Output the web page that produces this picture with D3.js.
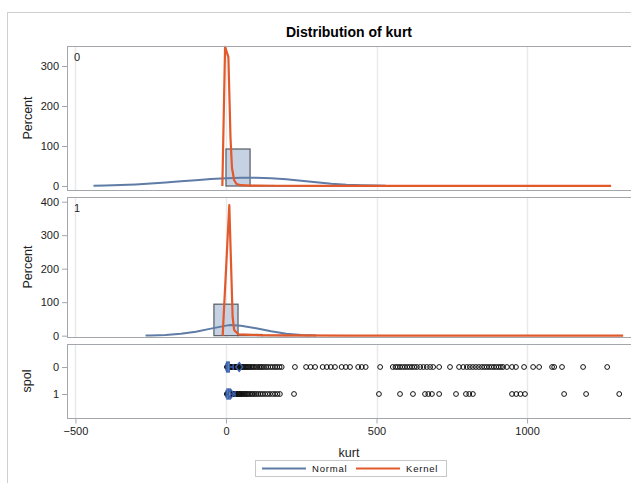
<!DOCTYPE html>
<html><head><meta charset="utf-8">
<script src="https://cdn.jsdelivr.net/npm/d3@7"></script>
<style>
html,body{margin:0;padding:0;background:#fff;}
svg{display:block;font-family:"Liberation Sans",Arial,sans-serif;}
</style></head>
<body>
<svg id="c" width="631" height="483"></svg>
<script>
// ---------- data ----------
const title = "Distribution of kurt";
const groups = ["0", "1"];
const xTicks = [-500, 0, 500, 1000];
const yTicks0 = [0, 100, 200, 300];
const yTicks1 = [0, 100, 200, 300, 400];

// histogram bins: [start, end, percent]
const hist0Start = [0, 80, 160, 240];
const hist0End   = [80, 160, 240, 320];
const hist0Pct   = [92.5, 1.2, 0.6, 0.4];
const hist1Start = [-40, 40, 120, 200];
const hist1End   = [40, 120, 200, 280];
const hist1Pct   = [94, 3.5, 0.8, 0.3];

// normal curves (kurt, percent)
const normal0X = [-440, -400, -350, -300, -250, -200, -150, -100, -50, 0, 50, 100, 150, 200, 250, 300, 350, 400, 450, 500, 530];
const normal0Y = [0.6, 1.3, 2.4, 3.9, 6.0, 8.6, 11.6, 14.6, 17.4, 19.6, 20.8, 20.7, 19.3, 16.8, 13.2, 9.5, 5.8, 3.4, 2.0, 1.2, 0.8];
const normal1X = [-267, -250, -200, -150, -100, -50, 0, 15, 50, 100, 150, 200, 250, 300];
const normal1Y = [0.5, 0.8, 2.2, 5.5, 12, 21, 30, 32, 29.5, 22, 13, 6.0, 2.2, 0.7];

// kernel curves (kurt, percent)
const kernel0X = [-12, -3, 8, 15, 20, 27, 35, 50, 80, 150, 300, 500, 700, 900, 1100, 1279];
const kernel0Y = [0, 348, 322, 120, 45, 15, 5, 2, 1, 0.6, 0.5, 0.4, 0.5, 0.4, 0.4, 0.3];
const kernel1X = [-11, 11, 22, 27, 41, 80, 113, 200, 400, 600, 800, 1000, 1200, 1319];
const kernel1Y = [0, 390, 57, 17, 4, 2.5, 1.5, 0.8, 0.4, 0.4, 0.4, 0.3, 0.3, 0.3];

// box plot summaries
const boxQ1 = [2, 3];
const boxMed = [6, 8];
const boxQ3 = [11, 14];
const boxLo = [0.5, 0.5];
const boxHi = [24, 30];
const boxMean = [44, 16];

// outliers
const out0 = [3,5,6,8,9,11,12,14,15,17,19,21,23,25,27,29,31,34,36,39,42,45,48,52,55,58,62,66,70,74,78,83,88,93,98,104,110,115,120,126,133,140,148,155,163,170,178,185,229,266,281,296,321,335,348,362,384,398,412,439,451,464,512,554,563,570,578,586,594,602,610,618,626,634,645,656,667,678,688,708,744,774,788,800,810,820,830,840,850,858,866,874,882,890,898,906,913,920,933,950,963,990,1020,1040,1083,1090,1116,1186,1266];
const out1 = [3,4,5,6,7,8,9,10,11,12,13,14,15,16,18,20,22,24,26,28,30,32,35,38,41,44,47,50,54,58,62,66,70,75,80,85,90,96,102,108,115,122,130,138,146,155,163,171,179,226,508,578,621,661,672,684,708,764,797,808,820,950,964,978,993,1123,1196,1306];

const legendLabels = ["Normal", "Kernel"];

// ---------- drawing ----------
const C_NORMAL = "#5e7ca6", C_KERNEL = "#e2592b", C_BAR = "#c6d2e3", C_BAR_S = "#555a60";
const C_FRAME = "#a3a7ab", C_GRID = "#e9e9e9";
const TICK_FS = 11;
const svg = d3.select("#c");

// outer frame
svg.append("rect").attr("x", 7.5).attr("y", 12.5).attr("width", 700).attr("height", 600)
  .attr("fill", "none").attr("stroke", "#cfcfcf");

svg.append("text").attr("x", 349).attr("y", 37).attr("text-anchor", "middle")
  .attr("font-size", 14).attr("font-weight", "bold").attr("fill", "#000").text(title);

const L = 67, R = 640;
const x = d3.scaleLinear().domain([-528, 1375]).range([L, R]);

const panels = [
  {top: 46, bot: 190, y: d3.scaleLinear().domain([-10, 350]).range([190, 46]), ticks: yTicks0,
   hs: hist0Start, he: hist0End, hp: hist0Pct, nx: normal0X, ny: normal0Y, kx: kernel0X, ky: kernel0Y, lab: groups[0]},
  {top: 197, bot: 337, y: d3.scaleLinear().domain([-4, 414]).range([337, 197]), ticks: yTicks1,
   hs: hist1Start, he: hist1End, hp: hist1Pct, nx: normal1X, ny: normal1Y, kx: kernel1X, ky: kernel1Y, lab: groups[1]}
];

function grid(top, bot) {
  const g = svg.append("g");
  g.selectAll("line").data(xTicks).join("line")
    .attr("x1", d => Math.round(x(d)) + 0.5).attr("x2", d => Math.round(x(d)) + 0.5)
    .attr("y1", top).attr("y2", bot).attr("stroke", C_GRID).attr("stroke-width", 1.5);
}

function styleAxis(ax) {
  ax.select(".domain").remove();
  ax.selectAll("line").attr("stroke", C_FRAME);
  ax.selectAll("text").attr("font-size", TICK_FS).attr("fill", "#222").attr("font-family", "Liberation Sans, Arial");
}

panels.forEach(p => {
  grid(p.top, p.bot);
  const idx = d3.range(p.hs.length);
  svg.append("g").selectAll("rect").data(idx).join("rect")
    .attr("x", i => x(p.hs[i])).attr("width", i => x(p.he[i]) - x(p.hs[i]))
    .attr("y", i => p.y(p.hp[i])).attr("height", i => p.y(0) - p.y(p.hp[i]))
    .attr("fill", C_BAR).attr("stroke", C_BAR_S).attr("stroke-width", 1.2);
  const line = d3.line().x(d => x(d[0])).y(d => p.y(d[1]));
  svg.append("path").datum(d3.zip(p.nx, p.ny)).attr("d", line)
    .attr("fill", "none").attr("stroke", C_NORMAL).attr("stroke-width", 2);
  svg.append("path").datum(d3.zip(p.kx, p.ky)).attr("d", line)
    .attr("fill", "none").attr("stroke", C_KERNEL).attr("stroke-width", 2.2).attr("stroke-linejoin", "round");
  svg.append("rect").attr("x", L + 0.5).attr("y", p.top + 0.5).attr("width", 700).attr("height", p.bot - p.top)
    .attr("fill", "none").attr("stroke", C_FRAME);
  const ax = svg.append("g").attr("transform", `translate(${L},0)`)
    .call(d3.axisLeft(p.y).tickValues(p.ticks).tickSize(5).tickPadding(3));
  styleAxis(ax);
  svg.append("text").attr("x", 74).attr("y", p.top + 15).attr("font-size", 11).attr("fill", "#222").text(p.lab);
  svg.append("text").attr("transform", `translate(32,${(p.top + p.bot) / 2}) rotate(-90)`)
    .attr("text-anchor", "middle").attr("font-size", 12.5).attr("fill", "#222").text("Percent");
});

// box plot panel
const bTop = 344, bBot = 418;
grid(bTop, bBot);
const yb = d3.scalePoint().domain(groups).range([367, 394]);
const outs = [out0, out1];
groups.forEach((g, i) => {
  const cy = yb(g);
  svg.append("g").selectAll("circle").data(outs[i]).join("circle")
    .attr("cx", d => x(d)).attr("cy", cy).attr("r", 2.4)
    .attr("fill", "none").attr("stroke", "#111").attr("stroke-width", 1);
  const bg = svg.append("g").attr("stroke", "#3d63b0").attr("fill", "none").attr("stroke-width", 1.3);
  bg.append("rect").attr("x", x(boxQ1[i])).attr("y", cy - 5).attr("width", x(boxQ3[i]) - x(boxQ1[i])).attr("height", 10)
    .attr("fill", "#9fb3d6");
  bg.append("line").attr("x1", x(boxMed[i])).attr("x2", x(boxMed[i])).attr("y1", cy - 5).attr("y2", cy + 5);
  bg.append("line").attr("x1", x(boxLo[i])).attr("x2", x(boxQ1[i])).attr("y1", cy).attr("y2", cy);
  bg.append("line").attr("x1", x(boxQ3[i])).attr("x2", x(boxHi[i])).attr("y1", cy).attr("y2", cy);
  bg.append("line").attr("x1", x(boxLo[i])).attr("x2", x(boxLo[i])).attr("y1", cy - 4).attr("y2", cy + 4);
  bg.append("line").attr("x1", x(boxHi[i])).attr("x2", x(boxHi[i])).attr("y1", cy - 3).attr("y2", cy + 3);
  const mx = x(boxMean[i]);
  bg.append("path").attr("d", `M${mx},${cy - 4.5}L${mx + 3.5},${cy}L${mx},${cy + 4.5}L${mx - 3.5},${cy}Z`).attr("fill", "none");
});
svg.append("rect").attr("x", L + 0.5).attr("y", bTop + 0.5).attr("width", 700).attr("height", bBot - bTop)
  .attr("fill", "none").attr("stroke", C_FRAME);
const ayb = svg.append("g").attr("transform", `translate(${L},0)`).call(d3.axisLeft(yb).tickSize(5).tickPadding(3));
styleAxis(ayb);
svg.append("text").attr("transform", `translate(31,${(bTop + bBot) / 2}) rotate(-90)`)
  .attr("text-anchor", "middle").attr("font-size", 12.5).attr("fill", "#222").text("spol");

const axX = svg.append("g").attr("transform", `translate(0,${bBot + 0.5})`)
  .call(d3.axisBottom(x).tickValues(xTicks).tickSize(5).tickPadding(4).tickFormat(d3.format("d")));
styleAxis(axX);
svg.append("text").attr("x", 349).attr("y", 457).attr("text-anchor", "middle")
  .attr("font-size", 12.5).attr("fill", "#222").text("kurt");

// legend
const lg = svg.append("g");
lg.append("rect").attr("x", 255.5).attr("y", 460.5).attr("width", 191).attr("height", 16)
  .attr("fill", "#fff").attr("stroke", "#c8c8c8");
const lcol = [C_NORMAL, C_KERNEL];
const lx = [262, 356];
legendLabels.forEach((t, i) => {
  lg.append("line").attr("x1", lx[i]).attr("x2", lx[i] + 44).attr("y1", 468.5).attr("y2", 468.5)
    .attr("stroke", lcol[i]).attr("stroke-width", 2);
  lg.append("text").attr("x", lx[i] + 50).attr("y", 472).attr("font-size", 9.5).attr("letter-spacing", 0.8)
    .attr("fill", "#111").text(t);
});
</script>
</body></html>
